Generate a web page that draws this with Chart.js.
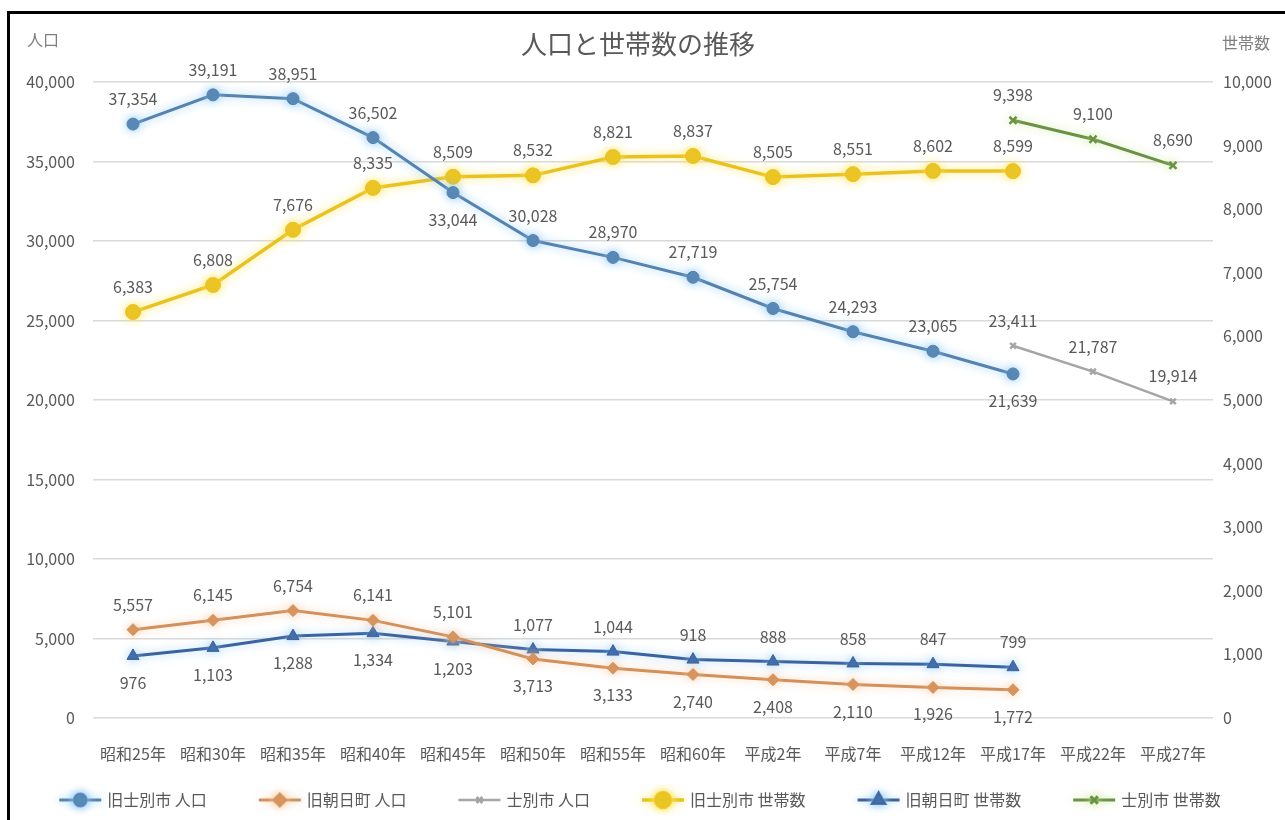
<!DOCTYPE html>
<html lang="ja">
<head>
<meta charset="utf-8">
<title>人口と世帯数の推移</title>
<script src="https://cdn.jsdelivr.net/npm/chart.js@4/dist/chart.umd.min.js"></script>
<style>
  html, body { margin: 0; padding: 0; background: #fff; overflow: hidden; }
  #frame {
    position: absolute; left: 7px; top: 11px; width: 1400px; height: 900px;
    border-left: 3px solid #000; border-top: 3px solid #000;
  }
  #wrap { position: absolute; left: 0; top: 0; width: 1285px; height: 820px; }
</style>
</head>
<body>
<div id="frame"></div>
<div id="wrap"><canvas id="chart" width="1285" height="820"></canvas></div>
<script>
const years = ["昭和25年", "昭和30年", "昭和35年", "昭和40年", "昭和45年", "昭和50年", "昭和55年",
  "昭和60年", "平成2年", "平成7年", "平成12年", "平成17年", "平成22年", "平成27年"];

// 人口 (left axis)
const shibetsuOldPop = [37354, 39191, 38951, 36502, 33044, 30028, 28970, 27719, 25754, 24293, 23065, 21639, null, null];
const asahiPop = [5557, 6145, 6754, 6141, 5101, 3713, 3133, 2740, 2408, 2110, 1926, 1772, null, null];
const shibetsuPop = [null, null, null, null, null, null, null, null, null, null, null, 23411, 21787, 19914];

// 世帯数 (right axis)
const shibetsuOldHH = [6383, 6808, 7676, 8335, 8509, 8532, 8821, 8837, 8505, 8551, 8602, 8599, null, null];
const asahiHH = [976, 1103, 1288, 1334, 1203, 1077, 1044, 918, 888, 858, 847, 799, null, null];
const shibetsuHH = [null, null, null, null, null, null, null, null, null, null, null, 9398, 9100, 8690];

const popTicks = [0, 5000, 10000, 15000, 20000, 25000, 30000, 35000, 40000];
const hhTicks = [0, 1000, 2000, 3000, 4000, 5000, 6000, 7000, 8000, 9000, 10000];

const TXT = "#595959";
const FONT = "'Noto Sans CJK JP', 'Noto Sans', sans-serif";

// label placement: a = above, b = below
const labelPos = [
  ["a", "a", "a", "a", "b", "a", "a", "a", "a", "a", "a", "b"],
  ["a", "a", "a", "a", "a", "b", "b", "b", "b", "b", "b", "b"],
  null,
  null,
  ["b", "b", "b", "b", "b", "a", "a", "a", "a", "a", "a", "a"],
  null
];

const labelsPlugin = {
  id: "valueLabels",
  afterDatasetsDraw(chart) {
    const ctx = chart.ctx;
    ctx.save();
    ctx.font = "16px " + FONT;
    ctx.fillStyle = TXT;
    ctx.textAlign = "center";
    ctx.textBaseline = "middle";
    chart.data.datasets.forEach((ds, i) => {
      const meta = chart.getDatasetMeta(i);
      meta.data.forEach((el, j) => {
        const v = ds.data[j];
        if (v == null) return;
        const p = labelPos[i] ? labelPos[i][j] : "a";
        const dy = p === "b" ? 27 : -25;
        ctx.fillText(v.toLocaleString("en-US"), el.x, el.y + dy);
      });
    });
    ctx.restore();
  }
};

const glowPlugin = {
  id: "glow",
  beforeDatasetDraw(chart, args) {
    const ds = chart.data.datasets[args.index];
    chart.ctx.save();
    if (ds.glow) {
      chart.ctx.shadowColor = ds.glow;
      chart.ctx.shadowBlur = 10;
    }
  },
  afterDatasetDraw(chart) {
    chart.ctx.restore();
  }
};

const textPlugin = {
  id: "texts",
  afterDraw(chart) {
    const ctx = chart.ctx;
    ctx.save();
    ctx.fillStyle = TXT;
    ctx.textBaseline = "middle";
    ctx.textAlign = "center";
    ctx.font = "26px " + FONT;
    ctx.fillText("人口と世帯数の推移", 638, 44);
    ctx.fillStyle = "#7f7f7f";
    ctx.font = "16px " + FONT;
    ctx.textAlign = "left";
    ctx.fillText("人口", 27, 40);
    ctx.fillText("世帯数", 1222, 43);

    // legend
    ctx.font = "16px " + FONT;
    ctx.fillStyle = TXT;
    const items = chart.data.datasets.map(ds => ({ ds, w: ctx.measureText(ds.label).width }));
    const lineW = 42, gap = 6, space = 52;
    let total = items.reduce((s, it) => s + lineW + gap + it.w, 0) + space * (items.length - 1);
    let x = 640 - total / 2;
    const y = 800;
    items.forEach(it => {
      const ds = it.ds;
      ctx.save();
      if (ds.glow) { ctx.shadowColor = ds.glow; ctx.shadowBlur = 8; }
      ctx.strokeStyle = ds.borderColor;
      ctx.lineWidth = ds.borderWidth;
      ctx.beginPath();
      ctx.moveTo(x, y);
      ctx.lineTo(x + lineW, y);
      ctx.stroke();
      if (ds.pointRadius > 0) {
        Chart.helpers.drawPoint(ctx, {
          pointStyle: ds.pointStyle, radius: ds.pointRadius,
          borderWidth: ds.pointBorderWidth || 1, rotation: 0
        }, x + lineW / 2, y);
        ctx.fillStyle = ds.pointBackgroundColor;
        ctx.strokeStyle = ds.pointBorderColor;
        ctx.lineWidth = ds.pointBorderWidth || 1;
        ctx.fill();
        ctx.stroke();
      }
      ctx.restore();
      ctx.fillStyle = TXT;
      ctx.textAlign = "left";
      ctx.fillText(ds.label, x + lineW + gap, y);
      x += lineW + gap + it.w + space;
    });
    ctx.restore();
  }
};

function line(label, data, color, axis, style, radius, width, glow) {
  return {
    label, data, yAxisID: axis,
    borderColor: color, backgroundColor: color,
    pointBackgroundColor: color, pointBorderColor: color,
    pointStyle: style, pointRadius: radius, pointBorderWidth: style === "crossRot" ? 2.5 : 1,
    borderWidth: width, tension: 0, glow
  };
}

new Chart(document.getElementById("chart"), {
  type: "line",
  data: {
    labels: years,
    datasets: [
      line("旧士別市 人口", shibetsuOldPop, "#5483b0", "pop", "circle", 6, 3, "rgba(140,200,245,0.9)"),
      line("旧朝日町 人口", asahiPop, "#d4905a", "pop", "rectRot", 6, 3, "rgba(250,200,160,0.8)"),
      line("士別市 人口", shibetsuPop, "#a5a5a5", "pop", "crossRot", 4, 2.5, null),
      line("旧士別市 世帯数", shibetsuOldHH, "#eac21f", "hh", "circle", 7.5, 3.5, "rgba(255,230,90,0.9)"),
      line("旧朝日町 世帯数", asahiHH, "#3a63a0", "hh", "triangle", 7, 3, "rgba(150,205,245,0.8)"),
      line("士別市 世帯数", shibetsuHH, "#6a9145", "hh", "crossRot", 5, 3, "rgba(200,230,150,0.8)")
    ]
  },
  options: {
    responsive: false,
    animation: false,
    layout: { padding: { top: 82, bottom: 52, left: 0, right: 0 } },
    plugins: { legend: { display: false }, title: { display: false }, tooltip: { enabled: false } },
    scales: {
      x: {
        offset: true,
        grid: { display: false },
        border: { display: false },
        ticks: { color: TXT, font: { size: 16, family: FONT }, padding: 18, maxRotation: 0, autoSkip: false },
        afterFit(s) { s.height = 50; }
      },
      pop: {
        position: "left",
        min: 0, max: 40000,
        afterBuildTicks(s) { s.ticks = popTicks.map(v => ({ value: v })); },
        grid: { color: "#d9d9d9", lineWidth: 1.5, drawTicks: false },
        border: { display: false },
        ticks: { color: TXT, font: { size: 16, family: FONT }, padding: 18,
                 callback: v => v.toLocaleString("en-US") },
        afterFit(s) { s.width = 93; }
      },
      hh: {
        position: "right",
        min: 0, max: 10000,
        afterBuildTicks(s) { s.ticks = hhTicks.map(v => ({ value: v })); },
        grid: { display: false, drawTicks: false },
        border: { display: false },
        ticks: { color: TXT, font: { size: 16, family: FONT }, padding: 10,
                 callback: v => v.toLocaleString("en-US") },
        afterFit(s) { s.width = 72; }
      }
    }
  },
  plugins: [glowPlugin, labelsPlugin, textPlugin]
});
</script>
</body>
</html>
